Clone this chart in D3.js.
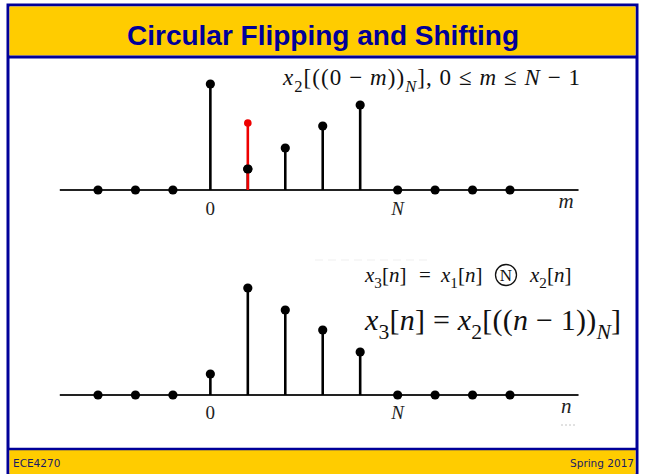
<!DOCTYPE html>
<html>
<head>
<meta charset="utf-8">
<script src="https://cdn.jsdelivr.net/npm/d3@7"></script>
<style>
  body { margin: 0; background: #fff; }
  svg { display: block; }
</style>
</head>
<body>
<svg id="slide" width="646" height="474"></svg>
<script>
// sample indices shown on both axes
var idx = [-3, -2, -1, 0, 1, 2, 3, 4, 5, 6, 7, 8];
// x2[((0-m))N]  (flipped sequence)
var flipVals = [0, 0, 0, 106, 21, 42, 64, 85, 0, 0, 0, 0];
// shifted sample being moved (red)
var redIdx = 1, redVal = 67;
// x3[n] = x2[((n-1))N]
var shiftVals = [0, 0, 0, 21, 107, 85, 65, 43, 0, 0, 0, 0];
var tickLabels = [{v: 0, t: "0"}, {v: 5, t: "N"}];

var svg = d3.select('#slide');
var blue = "#000099", gold = "#FFCC00";
var serif = "'Liberation Serif', 'Times New Roman', serif";

// frame
svg.append("rect").attr("x", 8).attr("y", 5).attr("width", 629).attr("height", 470)
    .attr("fill", "#fff").attr("stroke", blue).attr("stroke-width", 3);
svg.append("rect").attr("x", 9.5).attr("y", 6.5).attr("width", 626).attr("height", 49)
    .attr("fill", gold);
svg.append("line").attr("x1", 8).attr("x2", 637).attr("y1", 57).attr("y2", 57)
    .attr("stroke", blue).attr("stroke-width", 3);
svg.append("rect").attr("x", 9.5).attr("y", 450).attr("width", 626).attr("height", 30)
    .attr("fill", gold);
svg.append("line").attr("x1", 8).attr("x2", 637).attr("y1", 449).attr("y2", 449)
    .attr("stroke", blue).attr("stroke-width", 2.5);

svg.append("text").attr("x", 323).attr("y", 45).attr("text-anchor", "middle")
    .style("font-family", "'Liberation Sans', Arial, sans-serif").style("font-weight", "bold")
    .style("font-size", "28px").attr("fill", blue)
    .text("Circular Flipping and Shifting");

svg.append("text").attr("x", 13).attr("y", 467)
    .style("font-family", "'DejaVu Sans', sans-serif").style("font-size", "10.5px")
    .attr("fill", "#1a1a66").text("ECE4270");
svg.append("text").attr("x", 634).attr("y", 467).attr("text-anchor", "end")
    .style("font-family", "'DejaVu Sans', sans-serif").style("font-size", "10.5px")
    .attr("fill", "#1a1a66").text("Spring 2017");

var xScale = d3.scaleLinear().domain([-3, 8]).range([98, 510]);

function stemPlot(baseY, vals, varName, labelDy, varDy) {
    var yScale = d3.scaleLinear().domain([0, 110]).range([baseY, baseY - 110]);
    var g = svg.append("g");
    g.append("line")
        .attr("x1", xScale(-4.02)).attr("x2", xScale(9.83))
        .attr("y1", yScale(0)).attr("y2", yScale(0))
        .attr("stroke", "#222").attr("stroke-width", 1.8);
    var data = idx.map(function(d, i) { return {m: d, v: vals[i]}; });
    g.selectAll("line.stem")
        .data(data.filter(function(d) { return d.v > 0; }))
        .enter().append("line").attr("class", "stem")
        .attr("x1", function(d) { return xScale(d.m); })
        .attr("x2", function(d) { return xScale(d.m); })
        .attr("y1", yScale(0))
        .attr("y2", function(d) { return yScale(d.v); })
        .attr("stroke", "#000").attr("stroke-width", 2.6);
    g.selectAll("circle")
        .data(data).enter().append("circle")
        .attr("cx", function(d) { return xScale(d.m); })
        .attr("cy", function(d) { return yScale(d.v); })
        .attr("r", 4.6).attr("fill", "#000");
    tickLabels.forEach(function(t) {
        g.append("text").attr("x", xScale(t.v)).attr("y", yScale(0) + labelDy)
            .attr("text-anchor", "middle")
            .style("font-family", serif).style("font-size", "19px")
            .style("font-style", t.t == "N" ? "italic" : "normal")
            .attr("fill", "#222").text(t.t);
    });
    g.append("text").attr("x", xScale(9.5)).attr("y", yScale(0) + varDy)
        .attr("text-anchor", "middle")
        .style("font-family", serif).style("font-size", "21px").style("font-style", "italic")
        .attr("fill", "#222").text(varName);
    return yScale;
}

var yTop = stemPlot(190, flipVals, "m", 25, 18);
svg.append("line")
    .attr("x1", xScale(redIdx)).attr("x2", xScale(redIdx))
    .attr("y1", yTop(0)).attr("y2", yTop(redVal))
    .attr("stroke", "#ee0000").attr("stroke-width", 2.6);
svg.append("circle").attr("cx", xScale(redIdx)).attr("cy", yTop(redVal))
    .attr("r", 3.8).attr("fill", "#ee0000");
svg.append("circle").attr("cx", xScale(redIdx)).attr("cy", yTop(21))
    .attr("r", 4.6).attr("fill", "#000");

var yBot = stemPlot(395, shiftVals, "n", 24, 18);
// faint leftovers on the slide
svg.append("line").attr("x1", 561).attr("x2", 575).attr("y1", 425).attr("y2", 425)
    .attr("stroke", "#c4c4c4").attr("stroke-width", 1).attr("stroke-dasharray", "2,2");
svg.append("line").attr("x1", 315).attr("x2", 430).attr("y1", 260).attr("y2", 260)
    .attr("stroke", "#efefef").attr("stroke-width", 1.2).attr("stroke-dasharray", "8,5");

// formulas
function formula(x, y, size, width, parts, anchor) {
    var t = svg.append("text").attr("x", x).attr("y", y)
        .attr("text-anchor", anchor || "start")
        .style("font-family", serif).style("font-size", size + "px").attr("fill", "#111");
    parts.forEach(function(p) {
        var s = t.append("tspan").text(p[0]);
        if (p[1] == "i") s.style("font-style", "italic");
        if (p[2] == "sub") s.attr("dy", size * 0.3).style("font-size", (size * 0.72) + "px");
        if (p[2] == "up") s.attr("dy", -size * 0.3);
    });
    if (width) t.attr("textLength", width).attr("lengthAdjust", "spacing");
    return t;
}
var sig = function(v) { return [["x", "i"], [v, "n", "sub"], ["[", "n", "up"], ["n", "i"], ["]", "n"]]; };

formula(283, 85, 23, 297, [
    ["x", "i"], ["2", "n", "sub"], ["[((0 \u2212 ", "n", "up"], ["m", "i"], ["))", "n"],
    ["N", "i", "sub"], ["], 0 \u2264 ", "n", "up"], ["m", "i"], [" \u2264 ", "n"],
    ["N", "i"], [" \u2212 1", "n"]
]);

formula(365, 282, 21, null, sig("3"));
formula(425, 282, 21, null, [["=", "n"]], "middle");
formula(441, 282, 21, null, sig("1"));
svg.append("circle").attr("cx", 506).attr("cy", 275).attr("r", 10.5)
    .attr("fill", "none").attr("stroke", "#111").attr("stroke-width", 1.3);
svg.append("text").attr("x", 506).attr("y", 281).attr("text-anchor", "middle")
    .style("font-family", serif).style("font-size", "17px").attr("fill", "#111").text("N");
formula(530, 282, 21, null, sig("2"));

formula(365, 330, 30, 256, [
    ["x", "i"], ["3", "n", "sub"], ["[", "n", "up"], ["n", "i"], ["] = ", "n"],
    ["x", "i"], ["2", "n", "sub"], ["[((", "n", "up"], ["n", "i"], [" \u2212 1))", "n"],
    ["N", "i", "sub"], ["]", "n", "up"]
]);
</script>
</body>
</html>
